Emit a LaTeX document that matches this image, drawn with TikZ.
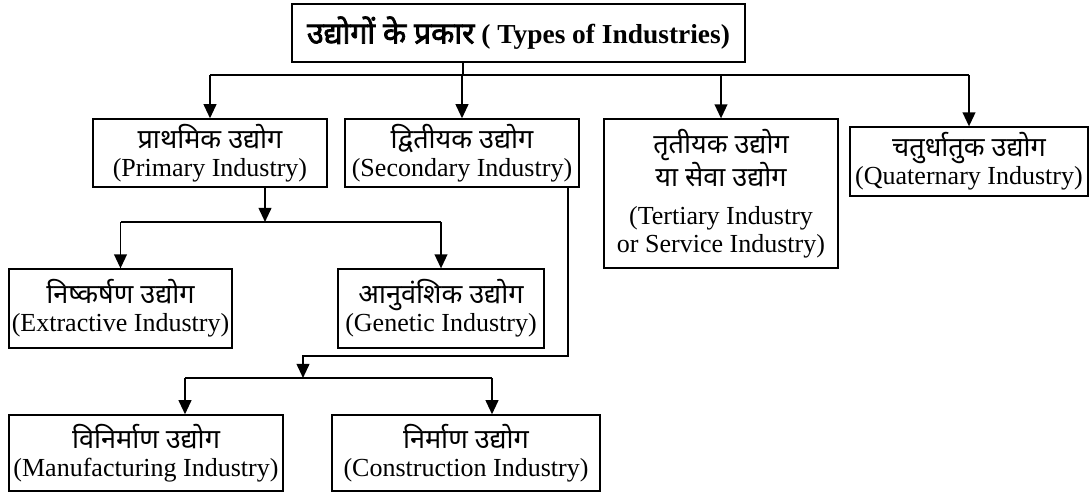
\documentclass[tikz,border=0pt]{standalone}
\usepackage{fontspec}
\setmainfont{Liberation Serif}
\newfontfamily\deva[Script=Devanagari, Scale=1.04]{Noto Sans}
\newfontfamily\devabold[Script=Devanagari, Scale=1.1, FakeBold=2.5]{Noto Sans}
\usetikzlibrary{arrows.meta}

\tikzset{
  box/.style={draw, line width=1pt, align=center, inner sep=1pt,
    font=\fontsize{18.5}{20}\selectfont},
  link/.style={line width=1.4pt},
  arr/.style={link, -{Triangle[width=9pt,length=10pt]}},
}

\begin{document}
\begin{tikzpicture}[x=0.025cm, y=-0.025cm]
  \useasboundingbox (0,0) rectangle (1090,493);

  % top level
  \node (title) at (518.5,33) [box, minimum width=11.33cm, minimum height=1.45cm,
    font=\fontsize{19.5}{21}\selectfont\bfseries]
    {{\devabold उद्योगों के प्रकार} ( Types of Industries)};

  % four main kinds
  \node (primary) at (210,153) [box, minimum width=5.85cm, minimum height=1.7cm]
    {{\deva प्राथमिक उद्योग}\\(Primary Industry)};
  \node (secondary) at (462,153) [box, minimum width=5.85cm, minimum height=1.7cm]
    {{\deva द्वितीयक उद्योग}\\(Secondary Industry)};
  \node (tertiary) at (721,193.5) [box, minimum width=5.85cm, minimum height=3.72cm]
    {{\deva तृतीयक उद्योग}\\{\deva या सेवा उद्योग}\\[7pt](Tertiary Industry\\or Service Industry)};
  \node (quaternary) at (969,161.5) [box, minimum width=5.95cm, minimum height=1.72cm]
    {{\deva चतुर्धातुक उद्योग}\\(Quaternary Industry)};

  % below primary
  \node (extractive) at (120.5,308.5) [box, minimum width=5.57cm, minimum height=1.97cm]
    {{\deva निष्कर्षण उद्योग}\\(Extractive Industry)};
  \node (genetic) at (441,308.5) [box, minimum width=5.15cm, minimum height=1.97cm]
    {{\deva आनुवंशिक उद्योग}\\(Genetic Industry)};

  % below secondary
  \node (manufacturing) at (146,453) [box, minimum width=6.85cm, minimum height=1.9cm]
    {{\deva विनिर्माण उद्योग}\\(Manufacturing Industry)};
  \node (construction) at (466,453) [box, minimum width=6.7cm, minimum height=1.9cm]
    {{\deva निर्माण उद्योग}\\(Construction Industry)};

  % bus points
  \coordinate (bus1) at (463,75);
  \coordinate (bus2) at (265,222);
  \coordinate (turn) at (568,356);
  \coordinate (bus3) at (303,378);
  \coordinate (mleft) at (185,378);
  \coordinate (mright) at (492,378);

  \draw[link] (title.south -| bus1) -- (bus1);
  \draw[link] (primary.north |- bus1) -- (quaternary.north |- bus1);
  \draw[arr] (primary.north |- bus1) -- (primary.north);
  \draw[arr] (secondary.north |- bus1) -- (secondary.north);
  \draw[arr] (tertiary.north |- bus1) -- (tertiary.north);
  \draw[arr] (quaternary.north |- bus1) -- (quaternary.north);

  \draw[arr] (primary.south -| bus2) -- (bus2);
  \draw[link] (extractive.north |- bus2) -- (genetic.north |- bus2);
  \draw[arr] (extractive.north |- bus2) -- (extractive.north);
  \draw[arr] (genetic.north |- bus2) -- (genetic.north);

  \draw[arr] (secondary.south -| turn) -- (turn) -| (bus3);
  \draw[link] (mleft) -- (mright);
  \draw[arr] (mleft) -- (mleft |- manufacturing.north);
  \draw[arr] (mright) -- (mright |- construction.north);
\end{tikzpicture}
\end{document}
